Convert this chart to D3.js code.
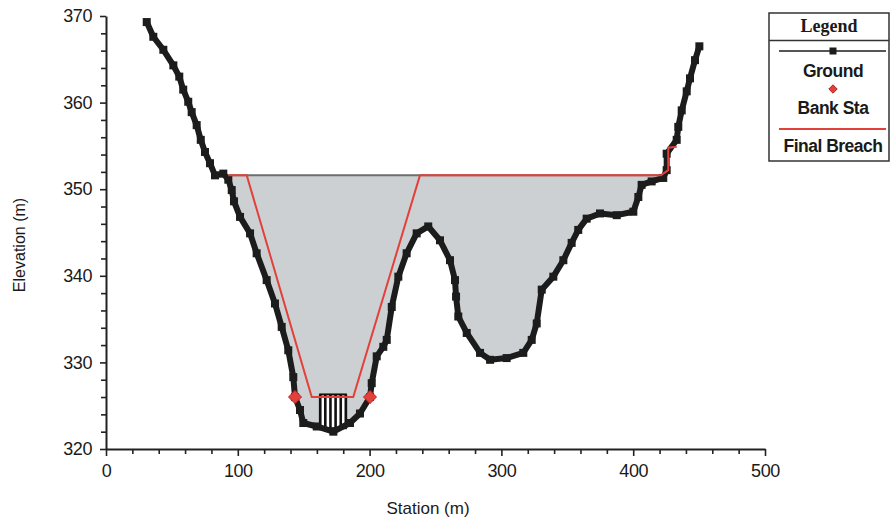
<!DOCTYPE html>
<html>
<head>
<meta charset="utf-8">
<script src="https://cdn.jsdelivr.net/npm/d3@7"></script>
<style>
  html, body { margin: 0; padding: 0; background: #ffffff; }
  svg { display: block; }
  text { font-family: "Liberation Sans", Arial, sans-serif; fill: #1a1a1a; }
</style>
</head>
<body>
<svg id="chart" width="891" height="517"></svg>
<script>
// Ground survey points (station m, elevation m)
const groundStation = [30.9, 35.9, 43.5, 51.1, 55.6, 58.6, 62.4, 65.0, 68.8, 71.9, 75.1, 78.9, 82.7, 89.0, 92.8, 95.4, 97.1,
  101.7, 109.3, 114.3, 121.9, 128.2, 133.3, 138.3, 142.1, 143.4, 147.2, 149.7, 159.9, 172.5, 185.1, 192.7, 200.3, 201.6,
  205.4, 210.4, 213.0, 216.8, 221.8, 228.1, 235.7, 244.5, 253.4, 261.0, 264.8, 265.6, 267.3, 273.7, 283.8, 291.4, 304.0,
  316.6, 323.0, 326.8, 330.6, 339.4, 347.0, 353.3, 358.3, 364.7, 374.8, 387.5, 400.1, 403.9, 406.4, 414.0, 422.8, 425.4,
  425.4, 433.0, 434.2, 436.8, 440.6, 443.1, 446.9, 450.2];
const groundElev = [369.3, 367.6, 366.1, 364.3, 363.0, 361.5, 360.1, 358.9, 357.4, 355.7, 354.3, 353.0, 351.6, 351.8, 351.1, 349.9, 348.6,
  346.8, 344.9, 342.6, 339.5, 336.8, 334.1, 331.4, 328.3, 326.0, 324.5, 323.0, 322.6, 322.0, 323.0, 324.1, 326.0, 327.6,
  330.7, 331.8, 332.6, 336.4, 339.9, 342.6, 344.9, 345.7, 344.1, 341.8, 339.5, 337.6, 335.3, 333.4, 331.1, 330.3, 330.5,
  331.1, 332.6, 334.5, 338.4, 339.9, 341.8, 343.8, 345.3, 346.6, 347.2, 347.0, 347.4, 349.1, 350.5, 350.9, 351.3, 352.2,
  354.1, 355.7, 357.2, 359.1, 361.3, 362.8, 364.9, 366.5];

// Final breach section
const breachStation = [92.8, 106.8, 156.1, 187.6, 238.2, 421.0, 426.6, 426.6, 433.0];
const breachElev    = [351.6, 351.6, 326.0, 326.0, 351.6, 351.6, 352.2, 354.8, 354.9];

// Bank stations
const bankStation = [143.4, 200.3];
const bankElev    = [326.0, 326.0];

// Water surface
const wsElev = 351.6;
const wsStation = [92.8, 421.0];

// Grate (vertical bars) at the channel invert
const grateStation = [162.5, 166.4, 170.3, 174.2, 178.1, 182.0];
const grateElev = [322.4, 326.3];

// Axis ticks
const xTicks = [0, 100, 200, 300, 400, 500];
const yTicks = [320, 330, 340, 350, 360, 370];

// Legend entries
const legendLabels = ["Ground", "Bank Sta", "Final Breach"];

const svg = d3.select("#chart");
const x = d3.scaleLinear().domain([0, 500]).range([106, 765]);
const y = d3.scaleLinear().domain([320, 370]).range([449, 16]);

const ground = groundStation.map((s, i) => [s, groundElev[i]]);
const breach = breachStation.map((s, i) => [s, breachElev[i]]);
const banks = bankStation.map((s, i) => [s, bankElev[i]]);

// Water fill between ground and water surface
const wetPts = ground.filter(d => d[0] >= wsStation[0] && d[0] <= wsStation[1]);
const area = d3.area()
  .x(d => x(d[0]))
  .y0(y(wsElev))
  .y1(d => y(Math.min(d[1], wsElev)));
svg.append("path")
  .datum([[wsStation[0], wsElev], ...wetPts, [wsStation[1], wsElev]])
  .attr("d", area)
  .attr("fill", "#cdd0d2");

// Water surface line
svg.append("line")
  .attr("x1", x(wsStation[0])).attr("x2", x(wsStation[1]))
  .attr("y1", y(wsElev)).attr("y2", y(wsElev))
  .attr("stroke", "#6e6e6e").attr("stroke-width", 2);

// Grate
const gTop = y(grateElev[1]), gBot = y(grateElev[0]);
const grate = svg.append("g").attr("stroke", "#111").attr("fill", "none");
grate.append("rect")
  .attr("x", x(grateStation[0])).attr("y", gTop)
  .attr("width", x(grateStation[grateStation.length - 1]) - x(grateStation[0]))
  .attr("height", gBot - gTop)
  .attr("stroke-width", 2).attr("fill", "#ffffff");
grate.selectAll("line.bar").data(grateStation).join("line")
  .attr("class", "bar")
  .attr("x1", d => x(d)).attr("x2", d => x(d))
  .attr("y1", gTop).attr("y2", gBot)
  .attr("stroke-width", 2.6);

// Ground line and markers
const line = d3.line().x(d => x(d[0])).y(d => y(d[1]));
svg.append("path").datum(ground).attr("d", line)
  .attr("fill", "none").attr("stroke", "#1c1c1c").attr("stroke-width", 6)
  .attr("stroke-linejoin", "round");
svg.append("g").selectAll("rect").data(ground).join("rect")
  .attr("x", d => x(d[0]) - 4).attr("y", d => y(d[1]) - 4)
  .attr("width", 8).attr("height", 8).attr("fill", "#1c1c1c");

// Final breach
svg.append("path").datum(breach).attr("d", line)
  .attr("fill", "none").attr("stroke", "#e2403a").attr("stroke-width", 2);

// Bank station markers
const diamond = d3.symbol().type(d3.symbolDiamond2).size(110);
svg.append("g").selectAll("path").data(banks).join("path")
  .attr("transform", d => `translate(${x(d[0])},${y(d[1])})`)
  .attr("d", diamond)
  .attr("fill", "#e2403a").attr("stroke", "#c02a2a").attr("stroke-width", 1);

// Axes
const axisColor = "#222";
svg.append("g").attr("transform", `translate(${x(0)},0)`)
  .call(d3.axisLeft(y).tickValues(yTicks).tickSize(6).tickSizeOuter(0).tickPadding(8).tickFormat(d3.format("d")));
svg.append("g").attr("transform", `translate(${x(0)},0)`)
  .call(d3.axisLeft(y).tickValues(d3.range(320, 371, 2).filter(v => v % 10 !== 0)).tickSize(5).tickSizeOuter(0).tickFormat(""))
  .select(".domain").remove();
svg.append("g").attr("transform", `translate(0,${y(320)})`)
  .call(d3.axisBottom(x).tickValues(xTicks).tickSize(7).tickSizeOuter(0).tickPadding(8).tickFormat(d3.format("d")));
svg.append("g").attr("transform", `translate(0,${y(320)})`)
  .call(d3.axisBottom(x).tickValues(d3.range(0, 501, 20).filter(v => v % 100 !== 0)).tickSize(5).tickSizeOuter(0).tickFormat(""))
  .select(".domain").remove();
svg.selectAll(".domain").attr("stroke", axisColor).attr("stroke-width", 2);
svg.selectAll(".tick line").attr("stroke", axisColor).attr("stroke-width", 1.6);
svg.selectAll(".tick text").attr("font-size", 18).style("fill", "#1a1a1a")
  .style("font-family", "'Liberation Sans', Arial, sans-serif").attr("letter-spacing", -0.4);

// Axis titles
svg.append("text").attr("transform", "translate(25,245) rotate(-90)")
  .attr("text-anchor", "middle").attr("font-size", 16).text("Elevation (m)");
svg.append("text").attr("x", 428).attr("y", 514)
  .attr("text-anchor", "middle").attr("font-size", 17).text("Station (m)");

// Legend
const lg = svg.append("g");
const lx0 = 769, lx1 = 889, ly0 = 13, ly1 = 161, lcx = 833;
lg.append("rect").attr("x", lx0).attr("y", ly0).attr("width", lx1 - lx0).attr("height", ly1 - ly0)
  .attr("fill", "#fff").attr("stroke", "#333").attr("stroke-width", 1.5);
lg.append("line").attr("x1", lx0).attr("x2", lx1).attr("y1", 40.5).attr("y2", 40.5)
  .attr("stroke", "#333").attr("stroke-width", 1.5);
lg.append("text").attr("x", 829).attr("y", 32).attr("text-anchor", "middle")
  .style("font-family", "'Liberation Serif', 'Times New Roman', serif").attr("font-weight", "bold")
  .attr("font-size", 18).text("Legend");
lg.append("line").attr("x1", 779).attr("x2", 886).attr("y1", 51).attr("y2", 51)
  .attr("stroke", "#1c1c1c").attr("stroke-width", 1.5);
lg.append("rect").attr("x", lcx - 3.5).attr("y", 47.5).attr("width", 7).attr("height", 7).attr("fill", "#1c1c1c");
lg.append("path").attr("transform", `translate(${lcx},89)`).attr("d", d3.symbol().type(d3.symbolDiamond2).size(45))
  .attr("fill", "#e2403a").attr("stroke", "#b02020").attr("stroke-width", 1);
lg.append("line").attr("x1", 779).attr("x2", 886).attr("y1", 129).attr("y2", 129)
  .attr("stroke", "#e2403a").attr("stroke-width", 2);
const legendY = [77, 114, 152];
lg.selectAll("text.item").data(legendLabels).join("text")
  .attr("class", "item")
  .attr("x", lcx).attr("y", (d, i) => legendY[i])
  .attr("text-anchor", "middle").attr("font-size", 17.5).attr("font-weight", "bold")
  .attr("letter-spacing", -0.5)
  .text(d => d);
</script>
</body>
</html>
